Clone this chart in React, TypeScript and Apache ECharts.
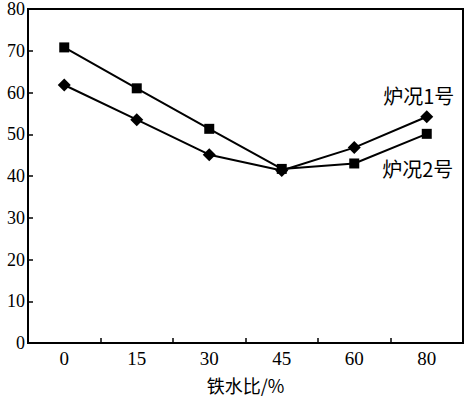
import React, { useEffect, useRef } from "react";
import * as echarts from "echarts";

const categories = ["0", "15", "30", "45", "60", "80"];
const furnace1 = [61.8, 53.5, 45.1, 41.3, 46.8, 54.2];
const furnace2 = [70.8, 61.0, 51.3, 41.7, 43.0, 50.1];
const seriesNames = ["炉况1号", "炉况2号"];
const xName = "铁水比/%";

const FONT = "'Liberation Serif', 'Noto Sans CJK SC', serif";

export default function App() {
  const ref = useRef<HTMLDivElement>(null);
  useEffect(() => {
    if (!ref.current) return;
    const chart = echarts.init(ref.current, undefined, { renderer: "svg" });
    const withEndLabel = (vals: number[], name: string, offset: number[]) =>
      vals.map((v, i) =>
        i === vals.length - 1
          ? {
              value: v,
              label: {
                show: true,
                formatter: name,
                position: "inside",
                offset,
                color: "#000",
                fontSize: 20,
                fontFamily: "'Noto Sans CJK SC', serif",
              },
            }
          : v
      );
    chart.setOption({
      animation: false,
      backgroundColor: "#fff",
      grid: {
        left: 28,
        right: 3,
        top: 9,
        bottom: 55,
        containLabel: false,
        outerBoundsMode: "none",
        show: true,
        borderColor: "#000",
        borderWidth: 2,
      },
      xAxis: {
        type: "category",
        data: categories,
        boundaryGap: true,
        name: xName,
        nameLocation: "middle",
        nameGap: 33,
        nameTextStyle: { color: "#000", fontSize: 18, fontFamily: "'Noto Sans CJK SC', serif" },
        axisLine: { lineStyle: { color: "#000", width: 2 } },
        axisTick: { show: true, inside: true, length: 5, lineStyle: { color: "#000", width: 1.5 } },
        axisLabel: { color: "#000", fontSize: 19, fontFamily: FONT, margin: 6 },
        splitLine: { show: false },
      },
      yAxis: {
        type: "value",
        min: 0,
        max: 80,
        interval: 10,
        axisLine: { show: true, lineStyle: { color: "#000", width: 2 } },
        axisTick: { show: true, inside: true, length: 5, lineStyle: { color: "#000", width: 1.5 } },
        axisLabel: { color: "#000", fontSize: 18, fontFamily: FONT, margin: 3 },
        splitLine: { show: false },
      },
      series: [
        {
          name: seriesNames[0],
          type: "line",
          data: withEndLabel(furnace1, seriesNames[0], [-8, -21]),
          symbol: "diamond",
          symbolSize: 13,
          itemStyle: { color: "#000" },
          lineStyle: { color: "#000", width: 2 },
        },
        {
          name: seriesNames[1],
          type: "line",
          data: withEndLabel(furnace2, seriesNames[1], [-9, 35]),
          symbol: "rect",
          symbolSize: 10,
          itemStyle: { color: "#000" },
          lineStyle: { color: "#000", width: 2 },
        },
      ],
    });
    return () => chart.dispose();
  }, []);
  return (
    <div
      ref={ref}
      style={{ position: "fixed", left: 0, top: 0, width: 466, height: 398, background: "#fff" }}
    />
  );
}
